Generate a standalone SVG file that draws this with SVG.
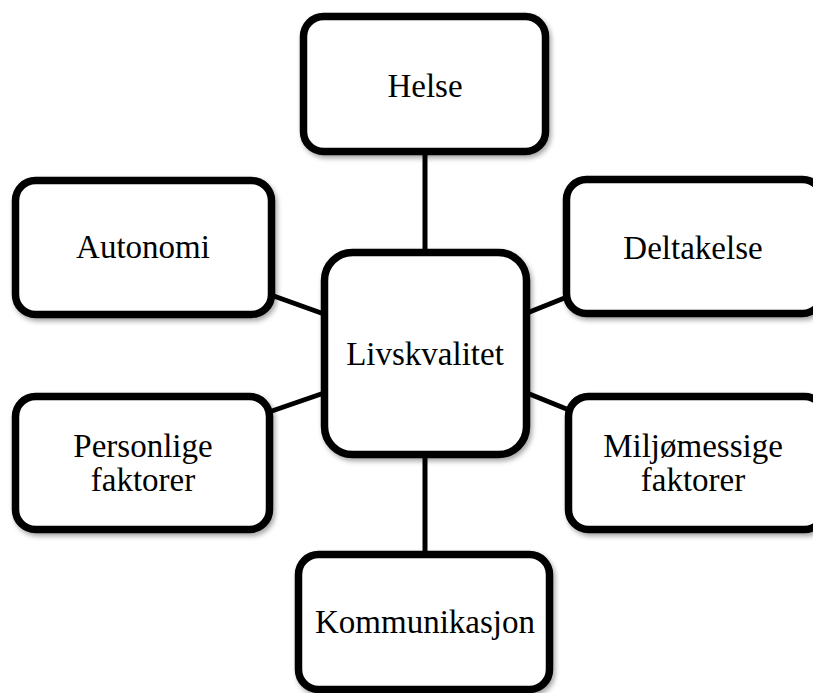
<svg xmlns="http://www.w3.org/2000/svg" width="813" height="693" viewBox="0 0 813 693">
<defs>
<filter id="sh" x="-10%" y="-10%" width="125%" height="125%">
<feDropShadow dx="2" dy="3" stdDeviation="2.5" flood-color="#000" flood-opacity="0.35"/>
</filter>
<style>
.box{fill:#fff;stroke:#000;stroke-width:7.5;filter:url(#sh)}
.lbl{font-family:"Liberation Serif","Times New Roman",serif;font-size:33px;fill:#000;text-anchor:middle}
.con{stroke:#000;stroke-width:5;fill:none}
</style>
</defs>
<rect width="813" height="693" fill="#fff"/>
<g id="connectors">
<line class="con" x1="425" y1="152" x2="425" y2="252"/>
<line class="con" x1="425" y1="455" x2="425" y2="555"/>
<line class="con" x1="271" y1="295" x2="324" y2="314"/>
<line class="con" x1="527" y1="313" x2="567" y2="297"/>
<line class="con" x1="269" y1="412" x2="324" y2="393"/>
<line class="con" x1="527" y1="393" x2="569" y2="410"/>
</g>
<g id="helse">
<rect class="box" x="303.5" y="16.5" width="242" height="135" rx="20"/>
<text class="lbl" x="425" y="97">Helse</text>
</g>
<g id="autonomi">
<rect class="box" x="15.5" y="180.5" width="256" height="134" rx="20"/>
<text class="lbl" x="143" y="258">Autonomi</text>
</g>
<g id="deltakelse">
<rect class="box" x="566.5" y="179.5" width="256" height="134" rx="20"/>
<text class="lbl" x="693" y="259">Deltakelse</text>
</g>
<g id="livskvalitet">
<rect class="box" x="324.5" y="252.5" width="202" height="202" rx="28"/>
<text class="lbl" x="425" y="365">Livskvalitet</text>
</g>
<g id="personlige">
<rect class="box" x="15.5" y="396.5" width="254" height="133" rx="20"/>
<text class="lbl" x="143" y="457">Personlige</text>
<text class="lbl" x="143" y="491">faktorer</text>
</g>
<g id="miljo">
<rect class="box" x="568.5" y="396.5" width="256" height="133" rx="20"/>
<text class="lbl" x="693" y="457">Miljømessige</text>
<text class="lbl" x="693" y="491">faktorer</text>
</g>
<g id="kommunikasjon">
<rect class="box" x="298.5" y="554.5" width="251" height="135" rx="20"/>
<text class="lbl" x="425" y="633">Kommunikasjon</text>
</g>
</svg>
